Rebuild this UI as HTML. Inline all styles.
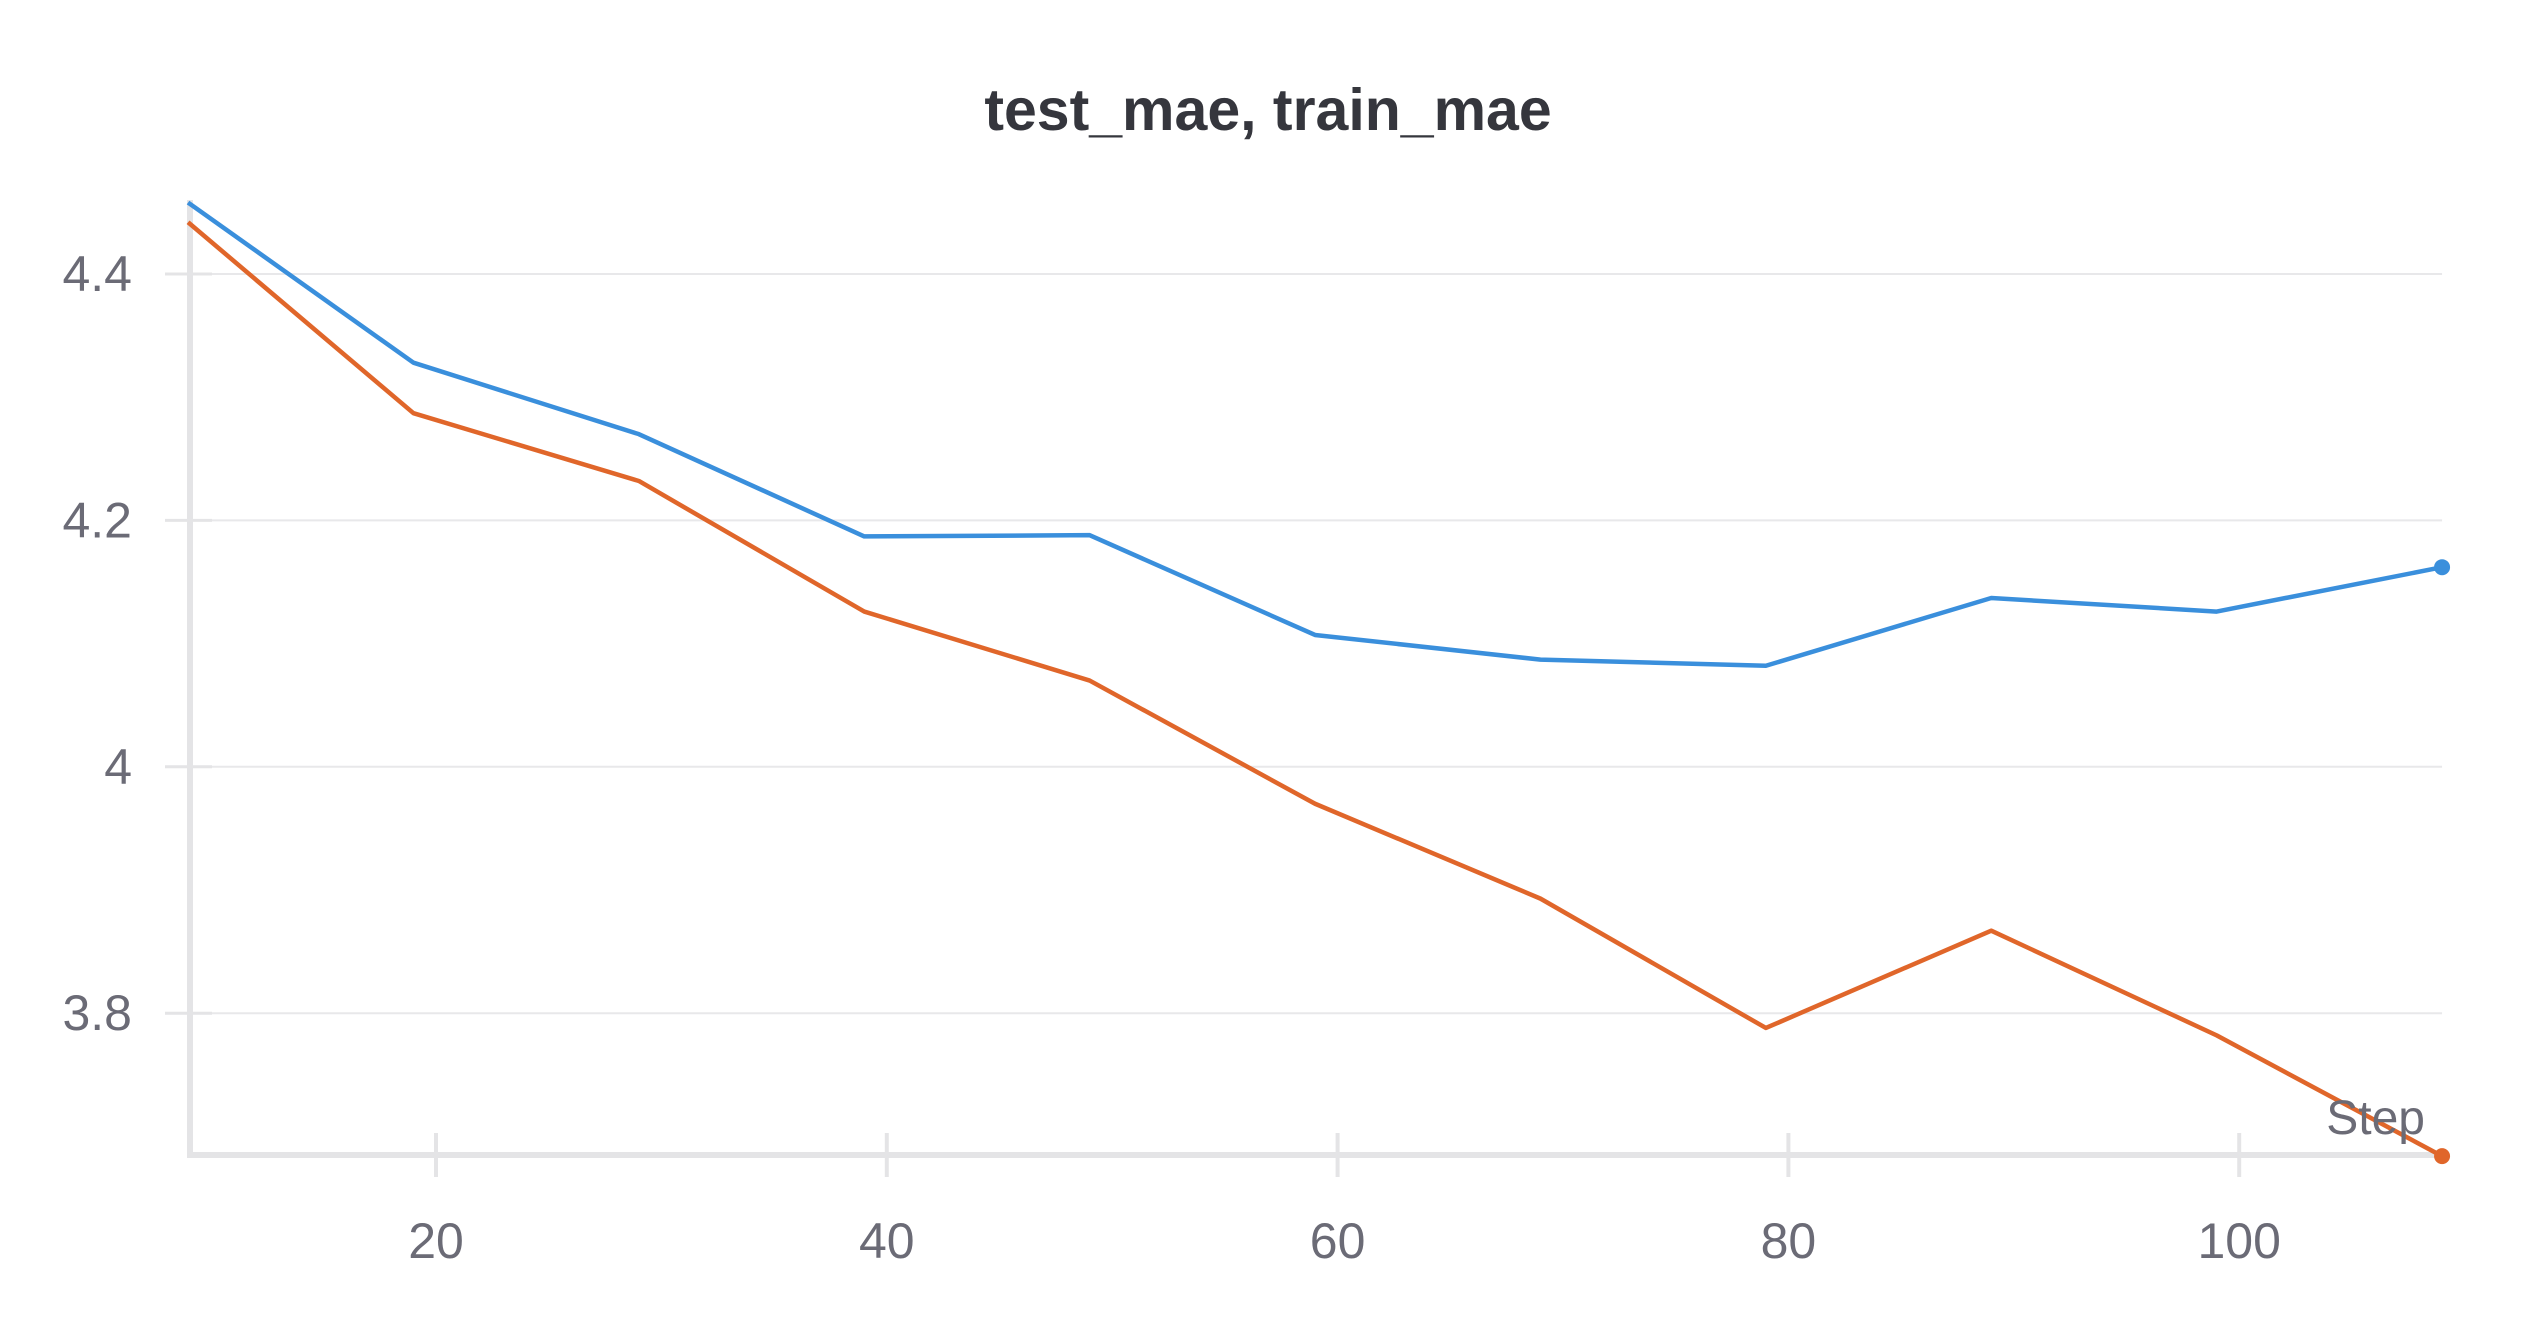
<!DOCTYPE html>
<html><head><meta charset="utf-8"><style>
html,body{margin:0;padding:0;background:#fff;width:2528px;height:1328px;overflow:hidden}
svg text{font-family:"Liberation Sans",sans-serif}
</style></head><body>
<svg id="chart" width="2528" height="1328" viewBox="0 0 2528 1328">
<text x="1268" y="130" text-anchor="middle" font-size="59" font-weight="bold" fill="#35363d">test_mae, train_mae</text>
<g id="grid"></g><g id="axes"></g><g id="series"></g>
<text x="2425" y="1134" text-anchor="end" font-size="48" fill="#6b6b76">Step</text>
</svg>
<script>
const steps=[9,19,29,39,49,59,69,79,89,99,109];
const testMae=[4.458,4.328,4.270,4.187,4.188,4.107,4.087,4.082,4.137,4.126,4.162];
const trainMae=[4.442,4.287,4.232,4.126,4.070,3.970,3.893,3.788,3.867,3.782,3.684];
const yTicks=[3.8,4.0,4.2,4.4];
const yTickLabels=["3.8","4","4.2","4.4"];
const xTicks=[20,40,60,80,100];
const NS="http://www.w3.org/2000/svg";
function xs(v){return 436+(v-20)*22.54;}
function ys(v){return 274+(4.4-v)*1232;}
function mk(t,a,p){const e=document.createElementNS(NS,t);for(const k in a)e.setAttribute(k,a[k]);p.appendChild(e);return e;}
const grid=document.getElementById('grid'),axes=document.getElementById('axes'),ser=document.getElementById('series');
const xEnd=xs(steps[steps.length-1]);
yTicks.forEach((v,i)=>{
 const g=mk('line',{x1:165,x2:xEnd,y1:ys(v),y2:ys(v),stroke:'#e8e8ea','stroke-width':2},grid);
 
 
 const t=mk('line',{x1:165,x2:212,y1:ys(v),y2:ys(v),stroke:'#e4e4e6','stroke-width':3},axes);
 
 
 const l=mk('text',{x:132,y:ys(v)+17,'text-anchor':'end','font-size':50,fill:'#6b6b76'},axes);
 l.textContent=yTickLabels[i];
 
 
});
xTicks.forEach(v=>{
 const t=mk('line',{x1:xs(v),x2:xs(v),y1:1133,y2:1177,stroke:'#e4e4e6','stroke-width':4},axes);
 
 
 const l=mk('text',{x:xs(v),y:1258,'text-anchor':'middle','font-size':50,fill:'#6b6b76'},axes);
 l.textContent=String(v);
 
 
});
const ya=mk('line',{x1:190,x2:190,y1:200,y2:1158,stroke:'#e4e4e6','stroke-width':6},axes);


const xa=mk('line',{x1:187,x2:xEnd,y1:1155,y2:1155,stroke:'#e4e4e6','stroke-width':6},axes);


function draw(vals,color,name){
 const p=mk('polyline',{points:steps.map((s,i)=>xs(s)+','+ys(vals[i])).join(' '),fill:'none',stroke:color,'stroke-width':4.5,'stroke-linejoin':'round'},ser);
 
 
 const n=steps.length-1;
 const c=mk('circle',{cx:xs(steps[n]),cy:ys(vals[n]),r:8,fill:color},ser);
 
 
}
draw(trainMae,'#e0662a','train-mae');
draw(testMae,'#3a8fdc','test-mae');
</script>
</body></html>
